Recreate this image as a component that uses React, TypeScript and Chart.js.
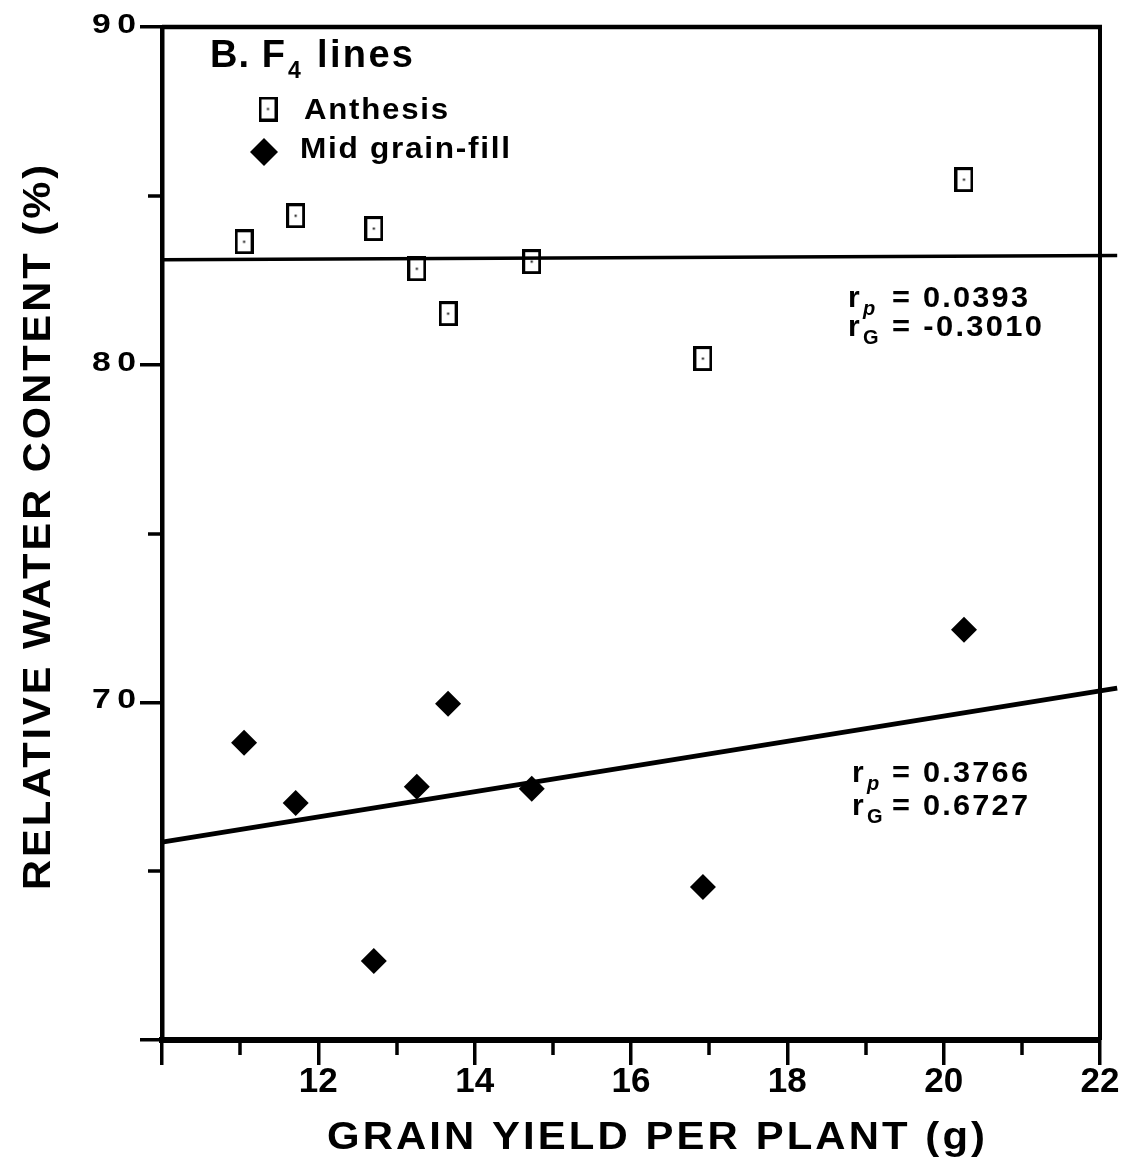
import React, { useEffect, useRef } from 'react';
import { Chart, registerables } from 'chart.js';

Chart.register(...registerables);

// ---- data ----
const grainYield = [11.05, 11.71, 12.71, 13.26, 13.66, 14.73, 16.92, 20.26];
const rwcAnthesis = [83.64, 84.41, 84.03, 82.84, 81.51, 83.05, 80.18, 85.48];
const rwcMidGrainFill = [68.8, 67.02, 62.34, 67.5, 69.96, 67.44, 64.53, 72.15];

const fitLineX = [10, 22.22];
const fitAnthesisY = [83.11, 83.23];
const fitMidGrainFillY = [65.86, 70.42];

const xMajorTicks = [10, 12, 14, 16, 18, 20, 22];
const xTickLabels = ['', '12', '14', '16', '18', '20', '22'];
const xMinorTicks = [11, 13, 15, 17, 19, 21];
const yMajorTicks = [60, 70, 80, 90];
const yTickLabels = ['', '70', '80', '90'];
const yMinorTicks = [65, 75, 85];

const seriesNames = ['Anthesis', 'Mid grain-fill'];
const panelTitle = ['B. F', '4', 'lines'];
const xAxisTitle = 'GRAIN YIELD PER PLANT (g)';
const yAxisTitle = 'RELATIVE WATER CONTENT (%)';
const statAnthesis = ['= 0.0393', '= -0.3010'];
const statMidGrainFill = ['= 0.3766', '= 0.6727'];

const FONT = "'Liberation Sans', Arial, Helvetica, sans-serif";

function drawFit(
  ctx: CanvasRenderingContext2D,
  text: string,
  x: number,
  y: number,
  font: string,
  width?: number,
  stretch = 0
) {
  ctx.save();
  ctx.font = font;
  (ctx as any).letterSpacing = '0px';
  let ls = 0;
  let sx = 1;
  if (width && text.length > 1) {
    const w = ctx.measureText(text).width;
    sx = 1 + ((width / w) - 1) * stretch;
    ls = (width - w * sx) / (text.length - 1) / sx;
  }
  (ctx as any).letterSpacing = ls + 'px';
  ctx.textAlign = 'left';
  ctx.textBaseline = 'alphabetic';
  ctx.fillStyle = '#000';
  ctx.translate(x, y);
  ctx.scale(sx, 1);
  ctx.fillText(text, 0, 0);
  ctx.restore();
}

function makeSquare(w: number, h: number, lw: number) {
  const c = document.createElement('canvas');
  c.width = w;
  c.height = h;
  const g = c.getContext('2d')!;
  g.strokeStyle = '#000';
  g.lineWidth = lw;
  g.strokeRect(lw / 2, lw / 2, w - lw, h - lw);
  g.fillStyle = '#000';
  g.fillRect(w / 2 - 1, h / 2 - 1, 2, 2);
  return c;
}

export default function App() {
  const ref = useRef<HTMLCanvasElement | null>(null);

  useEffect(() => {
    document.body.style.margin = '0';
    const canvas = ref.current!;
    const squareIcon = makeSquare(19, 25, 3);

    const decor = {
      id: 'decor',
      beforeDraw(chart: any) {
        const ctx = chart.ctx;
        ctx.save();
        ctx.fillStyle = '#fff';
        ctx.fillRect(0, 0, chart.width, chart.height);
        ctx.restore();
      },
      afterDraw(chart: any) {
        const ctx: CanvasRenderingContext2D = chart.ctx;
        const { left, right, top, bottom } = chart.chartArea;
        const xs = chart.scales.x;
        const ys = chart.scales.y;
        ctx.save();
        ctx.strokeStyle = '#000';
        // frame top / right
        ctx.lineWidth = 4.5;
        ctx.beginPath();
        ctx.moveTo(left, top);
        ctx.lineTo(right + 2, top);
        ctx.stroke();
        ctx.lineWidth = 4;
        ctx.beginPath();
        ctx.moveTo(right, top);
        ctx.lineTo(right, bottom);
        ctx.stroke();
        // minor ticks
        ctx.lineWidth = 3.5;
        xMinorTicks.forEach((v) => {
          const px = Math.round(xs.getPixelForValue(v));
          ctx.beginPath();
          ctx.moveTo(px, bottom);
          ctx.lineTo(px, bottom + 15);
          ctx.stroke();
        });
        yMinorTicks.forEach((v) => {
          const py = Math.round(ys.getPixelForValue(v));
          ctx.beginPath();
          ctx.moveTo(left, py);
          ctx.lineTo(left - 14, py);
          ctx.stroke();
        });
        ctx.restore();

        // y tick labels
        yMajorTicks.forEach((v, i) => {
          const t = yTickLabels[i];
          if (!t) return;
          const py = ys.getPixelForValue(v);
          drawFit(ctx, t, 92, py + 6, `bold 28px ${FONT}`, 44, 0.5);
        });

        // axis titles
        drawFit(ctx, xAxisTitle, 327, 1149, `bold 39px ${FONT}`, 658, 0.35);
        ctx.save();
        ctx.translate(50, 890);
        ctx.rotate(-Math.PI / 2);
        drawFit(ctx, yAxisTitle, 0, 0, `bold 39px ${FONT}`, 725, 0.35);
        ctx.restore();

        // panel title
        drawFit(ctx, panelTitle[0], 210, 67, `bold 38px ${FONT}`, 75);
        drawFit(ctx, panelTitle[1], 288, 78, `bold 23px ${FONT}`);
        drawFit(ctx, panelTitle[2], 317, 67, `bold 38px ${FONT}`, 96);

        // legend
        ctx.drawImage(squareIcon, 268 - 9.5, 109 - 12.5);
        drawFit(ctx, seriesNames[0], 304, 119, `bold 30px ${FONT}`, 144, 0.3);
        ctx.save();
        ctx.fillStyle = '#000';
        ctx.beginPath();
        ctx.moveTo(264, 152 - 14);
        ctx.lineTo(264 + 14, 152);
        ctx.lineTo(264, 152 + 14);
        ctx.lineTo(264 - 14, 152);
        ctx.closePath();
        ctx.fill();
        ctx.restore();
        drawFit(ctx, seriesNames[1], 300, 158, `bold 30px ${FONT}`, 210, 0.3);

        // correlation statistics
        const stat = (rx: number, by: number, sub: string, italic: boolean, txt: string, w: number) => {
          drawFit(ctx, 'r', rx, by, `bold 30px ${FONT}`);
          drawFit(ctx, sub, rx + 15, by + 8, `${italic ? 'italic ' : ''}bold 20px ${FONT}`);
          drawFit(ctx, txt, 892, by, `bold 29px ${FONT}`, w, 0.3);
        };
        stat(848, 307, 'p', true, statAnthesis[0], 136);
        stat(848, 336, 'G', false, statAnthesis[1], 150);
        stat(852, 782, 'p', true, statMidGrainFill[0], 136);
        stat(852, 815, 'G', false, statMidGrainFill[1], 136);
      },
    };

    const chart = new Chart(canvas, {
      type: 'scatter',
      data: {
        datasets: [
          {
            label: seriesNames[0],
            data: grainYield.map((x, i) => ({ x, y: rwcAnthesis[i] })),
            pointStyle: squareIcon as any,
            pointRadius: 10,
            showLine: false,
          },
          {
            label: seriesNames[1],
            data: grainYield.map((x, i) => ({ x, y: rwcMidGrainFill[i] })),
            pointStyle: 'rectRot',
            pointRadius: 13,
            backgroundColor: '#000',
            borderColor: '#000',
            borderWidth: 0,
            showLine: false,
          },
          {
            label: 'fit-anthesis',
            data: fitLineX.map((x, i) => ({ x, y: fitAnthesisY[i] })),
            showLine: true,
            pointRadius: 0,
            borderColor: '#000',
            borderWidth: 3.5,
            clip: false as any,
          },
          {
            label: 'fit-mid',
            data: fitLineX.map((x, i) => ({ x, y: fitMidGrainFillY[i] })),
            showLine: true,
            pointRadius: 0,
            borderColor: '#000',
            borderWidth: 5,
            clip: false as any,
          },
        ],
      },
      options: {
        responsive: false,
        animation: false,
        devicePixelRatio: 1,
        layout: { padding: { top: 27, right: 26, left: 0, bottom: 0 } },
        plugins: {
          legend: { display: false },
          tooltip: { enabled: false },
        },
        scales: {
          x: {
            type: 'linear',
            min: 10,
            max: 22,
            afterBuildTicks: (s: any) => {
              s.ticks = xMajorTicks.map((v) => ({ value: v }));
            },
            afterFit: (s: any) => {
              s.height = 125;
            },
            ticks: {
              autoSkip: false,
              maxRotation: 0,
              padding: 0,
              color: '#000',
              font: { family: FONT, size: 35, weight: 'bold', lineHeight: 1 },
              callback: (_v: any, i: number) => xTickLabels[i],
            },
            grid: {
              drawOnChartArea: false,
              drawTicks: true,
              tickLength: 25,
              tickWidth: 3.5,
              tickColor: '#000',
              color: '#000',
              lineWidth: 3.5,
            },
            border: { display: true, color: '#000', width: 6 },
          },
          y: {
            type: 'linear',
            min: 60,
            max: 90,
            afterBuildTicks: (s: any) => {
              s.ticks = yMajorTicks.map((v) => ({ value: v }));
            },
            afterFit: (s: any) => {
              s.width = 162;
            },
            ticks: { display: false },
            grid: {
              drawOnChartArea: false,
              drawTicks: true,
              tickLength: 22,
              tickWidth: 3.5,
              tickColor: '#000',
              color: '#000',
              lineWidth: 3.5,
            },
            border: { display: true, color: '#000', width: 4.5 },
          },
        },
      },
      plugins: [decor],
    } as any);

    return () => chart.destroy();
  }, []);

  return (
    <div style={{ width: 1126, height: 1165 }}>
      <canvas ref={ref} width={1126} height={1165} style={{ display: 'block' }} />
    </div>
  );
}
